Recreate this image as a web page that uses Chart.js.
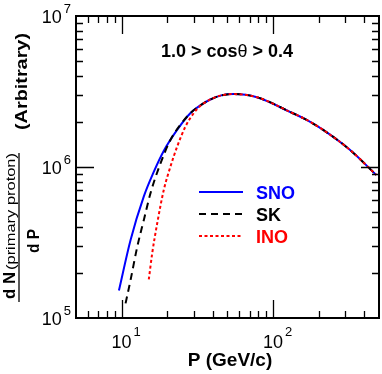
<!DOCTYPE html>
<html>
<head>
<meta charset="utf-8">
<script src="https://cdn.jsdelivr.net/npm/chart.js@4.4.1/dist/chart.umd.min.js"></script>
<style>
html, body { margin: 0; padding: 0; background: #fff; }
#wrap { width: 382px; height: 374px; }
</style>
</head>
<body>
<div id="wrap"><canvas id="fluxChart" width="382" height="374"></canvas></div>
<script>
// Values: momentum P (GeV/c) and dN/dP (arbitrary units)
// rising branch, differs per detector
const pSno = [9.6, 11.46, 14.0, 16.3, 19.0, 23.25, 28.4, 33.1];
const fluxSno = [1.52e5, 3.29e5, 6.36e5, 9.27e5, 1.28e6, 1.76e6, 2.27e6, 2.56e6];

const pSk = [10.62, 11.46, 12.69, 14.02, 15.51, 18.06, 21.0, 24.4, 28.4, 33.1];
const fluxSk = [1.25e5, 1.785e5, 2.97e5, 4.46e5, 6.70e5, 1.058e6, 1.51e6, 1.90e6, 2.27e6, 2.56e6];

const pIno = [15.12, 15.92, 17.18, 18.98, 21.0, 23.25, 26.37, 29.9, 33.1];
const fluxIno = [1.80e5, 2.68e5, 4.24e5, 7.04e5, 1.005e6, 1.362e6, 1.85e6, 2.27e6, 2.54e6];

// common high-momentum part, all three curves overlap here
const pTail = [38.5, 45.5, 54.8, 78.1, 129, 166.6, 214, 321, 480];
const fluxTail = [2.80e6, 2.98e6, 3.04e6, 2.90e6, 2.32e6, 2.05e6, 1.76e6, 1.30e6, 8.85e5];

const seriesNames = ['SNO', 'SK', 'INO'];
const seriesColors = ['#0000ff', '#000000', '#ff0000'];
const seriesDash = [[], [7, 5], [3, 2.5]];

const xTickLabels = [10, 100];
const yTickLabels = [1e5, 1e6, 1e7];

const FONT = '"Liberation Sans", Arial, sans-serif';

function toPoints(ps, fs) {
    return ps.concat(pTail).map((p, i) => ({ x: p, y: i < fs.length ? fs[i] : fluxTail[i - fs.length] }));
}

const curves = [toPoints(pSno, fluxSno), toPoints(pSk, fluxSk), toPoints(pIno, fluxIno)];

// superscript style power-of-ten label
function drawPow(ctx, exp, x, y, align, rise) {
    ctx.font = '18px ' + FONT;
    const wBase = ctx.measureText('10').width;
    ctx.font = '13px ' + FONT;
    const wExp = ctx.measureText(String(exp)).width;
    let x0 = x;
    if (align === 'center') x0 = x - wBase / 2;
    if (align === 'right') x0 = x - wBase - wExp - 2;
    ctx.fillStyle = '#000';
    ctx.textAlign = 'left';
    ctx.textBaseline = 'alphabetic';
    ctx.font = '18px ' + FONT;
    ctx.fillText('10', x0, y);
    ctx.font = '13px ' + FONT;
    ctx.fillText(String(exp), x0 + wBase + 2, y - rise);
}

// text stretched along its baseline to a given length
function fillFit(ctx, text, x, y, len) {
    const w = ctx.measureText(text).width;
    ctx.save();
    ctx.translate(x, y);
    ctx.scale(len / w, 1);
    ctx.fillText(text, 0, 0);
    ctx.restore();
}

const framePlugin = {
    id: 'frame',
    afterDraw(chart) {
        const ctx = chart.ctx;
        const a = chart.chartArea;
        const xs = chart.scales.x, ys = chart.scales.y;
        ctx.save();

        // inward ticks on all four sides
        ctx.strokeStyle = '#000';
        ctx.lineWidth = 1.3;
        for (let d = 0; d <= 3; d++) {
            for (let m = 1; m <= 9; m++) {
                const v = m * Math.pow(10, d);
                if (v < xs.min || v > xs.max) continue;
                const px = Math.round(xs.getPixelForValue(v)) + 0.5;
                if (px < a.left + 2 || px > a.right - 2) continue;
                const len = m === 1 ? 18 : 7;
                ctx.beginPath();
                ctx.moveTo(px, a.bottom); ctx.lineTo(px, a.bottom - len);
                ctx.moveTo(px, a.top); ctx.lineTo(px, a.top + len);
                ctx.stroke();
            }
        }
        for (let d = 5; d <= 7; d++) {
            for (let m = 1; m <= 9; m++) {
                const v = m * Math.pow(10, d);
                if (v < ys.min || v > ys.max) continue;
                const py = Math.round(ys.getPixelForValue(v)) + 0.5;
                if (py < a.top + 2 || py > a.bottom - 2) continue;
                const len = m === 1 ? 18 : 7;
                ctx.beginPath();
                ctx.moveTo(a.left, py); ctx.lineTo(a.left + len, py);
                ctx.moveTo(a.right, py); ctx.lineTo(a.right - len, py);
                ctx.stroke();
            }
        }

        // frame
        ctx.lineWidth = 2;
        ctx.strokeRect(a.left, a.top, a.right - a.left, a.bottom - a.top);

        // tick labels
        xTickLabels.forEach(v => {
            drawPow(ctx, Math.round(Math.log10(v)), xs.getPixelForValue(v), a.bottom + 30, 'center', 12);
        });
        yTickLabels.forEach(v => {
            drawPow(ctx, Math.round(Math.log10(v)), a.left - 5, ys.getPixelForValue(v) + 7, 'right', 10);
        });

        // x title
        ctx.fillStyle = '#000';
        ctx.font = 'bold 19px ' + FONT;
        ctx.textAlign = 'center';
        ctx.fillText('P (GeV/c)', 230, 366);

        // panel title
        const t1 = '1.0 > cos', t2 = '\u03b8', t3 = ' > 0.4';
        ctx.font = 'bold 18px ' + FONT;
        const w1 = ctx.measureText(t1).width, w3 = ctx.measureText(t3).width;
        ctx.font = '18px ' + FONT;
        const w2 = ctx.measureText(t2).width;
        let tx = 227 - (w1 + w2 + w3) / 2;
        ctx.textAlign = 'left';
        ctx.font = 'bold 18px ' + FONT;
        ctx.fillText(t1, tx, 57);
        ctx.font = '18px ' + FONT;
        ctx.fillText(t2, tx + w1, 57);
        ctx.font = 'bold 18px ' + FONT;
        ctx.fillText(t3, tx + w1 + w2, 57);

        // legend
        seriesNames.forEach((name, i) => {
            const ly = 192 + i * 22;
            ctx.strokeStyle = seriesColors[i];
            ctx.lineWidth = 2;
            ctx.setLineDash(seriesDash[i]);
            ctx.beginPath();
            ctx.moveTo(199, ly); ctx.lineTo(243, ly);
            ctx.stroke();
            ctx.setLineDash([]);
            ctx.fillStyle = seriesColors[i];
            ctx.font = 'bold 18px ' + FONT;
            ctx.fillText(name, 256, ly + 7);
        });

        // y title: fraction dN/dP followed by (Arbitrary)
        ctx.fillStyle = '#000';
        ctx.strokeStyle = '#000';
        ctx.translate(19, 227);
        ctx.rotate(-Math.PI / 2);
        ctx.lineWidth = 1.3;
        ctx.beginPath();
        ctx.moveTo(-75, 0); ctx.lineTo(74, 0);
        ctx.stroke();
        ctx.textAlign = 'left';
        ctx.font = 'bold 17px ' + FONT;
        fillFit(ctx, 'd N', -72, -4, 27);
        ctx.font = '13px ' + FONT;
        fillFit(ctx, '(primary proton)', -43, -4, 117);
        ctx.font = 'bold 17px ' + FONT;
        fillFit(ctx, 'd P', -26, 20, 24);
        ctx.font = 'bold 17px ' + FONT;
        fillFit(ctx, '(Arbitrary)', 97, 8, 97);

        ctx.restore();
    }
};

new Chart(document.getElementById('fluxChart'), {
    type: 'line',
    data: {
        datasets: seriesNames.map((name, i) => ({
            label: name,
            data: curves[i],
            borderColor: seriesColors[i],
            borderDash: seriesDash[i],
            borderWidth: 2,
            pointRadius: 0,
            fill: false,
            cubicInterpolationMode: 'monotone',
            order: 3 - i
        }))
    },
    options: {
        responsive: false,
        animation: false,
        layout: { padding: { top: 16, right: 3, left: 0, bottom: 0 } },
        plugins: { legend: { display: false }, tooltip: { enabled: false } },
        scales: {
            x: {
                type: 'logarithmic',
                min: 5, max: 500,
                grid: { display: false },
                border: { display: false },
                ticks: { display: false },
                afterFit: s => { s.height = 56; }
            },
            y: {
                type: 'logarithmic',
                min: 1e5, max: 1e7,
                grid: { display: false },
                border: { display: false },
                ticks: { display: false },
                afterFit: s => { s.width = 76; }
            }
        }
    },
    plugins: [framePlugin]
});
</script>
</body>
</html>
